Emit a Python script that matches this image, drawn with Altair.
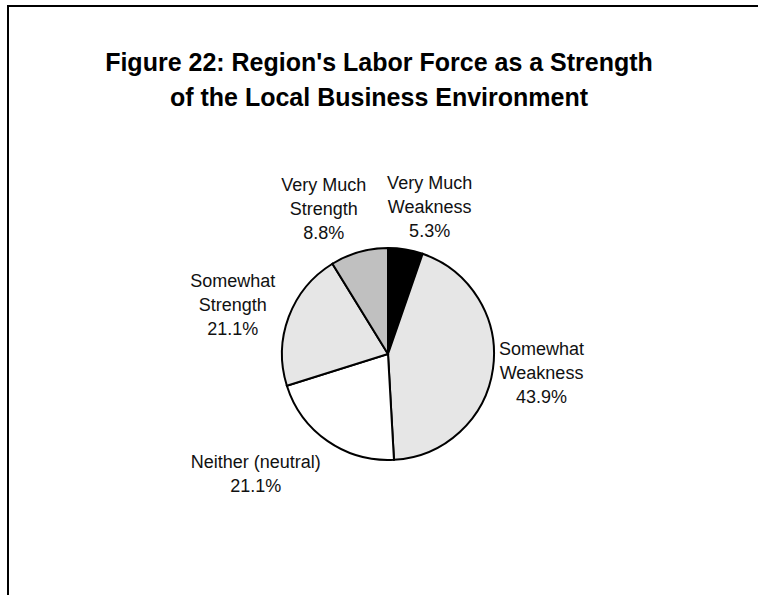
import altair as alt
import pandas as pd

# ---- data ----
categories = ["Very Much Weakness", "Somewhat Weakness", "Neither (neutral)",
              "Somewhat Strength", "Very Much Strength"]
values = [5.3, 43.9, 21.1, 21.1, 8.8]
label_names = ["Very Much\nWeakness", "Somewhat\nWeakness", "Neither (neutral)",
               "Somewhat\nStrength", "Very Much\nStrength"]
title_lines = ["Figure 22: Region's Labor Force as a Strength",
               "of the Local Business Environment"]

# ---- styles ----
colors = ["#000000", "#e6e6e6", "#ffffff", "#e6e6e6", "#c0c0c0"]
LINE_H = 24
label_offsets = {  # (dx, dy) nudges of each label from its slice's mid-angle
    "Very Much Weakness": (16, 7 - LINE_H),
    "Somewhat Weakness": (0, -1 - LINE_H),
    "Neither (neutral)": (-44, -6 - LINE_H // 2),
    "Somewhat Strength": (-10, 6 - LINE_H),
    "Very Much Strength": (-22, 5 - LINE_H),
}
FONT = "Liberation Sans"
PAD_L, PAD_T = 18, 113
W, H = 740, 482

df = pd.DataFrame({
    "idx": list(range(len(categories))),
    "cat": categories,
    "value": values,
    "label": [f"{n}\n{v:.1f}%" for n, v in zip(label_names, values)],
})

base = alt.Chart(df).encode(
    theta=alt.Theta("value:Q", stack=True),
    order=alt.Order("idx:Q"),
)

pie = base.mark_arc(outerRadius=106, stroke="black", strokeWidth=2).encode(
    color=alt.Color("cat:N", scale=alt.Scale(domain=categories, range=colors), legend=None)
)

layers = [pie]
for i, c in enumerate(categories):
    dx, dy = label_offsets[c]
    t = base.transform_calculate(
        t=f"datum.idx == {i} ? datum.label : ''"
    ).mark_text(
        radius=155, font=FONT, fontSize=18, lineHeight=LINE_H, lineBreak="\n",
        align="center", baseline="middle", color="#111111", dx=dx, dy=dy,
    ).encode(text="t:N")
    layers.append(t)

frame_top = alt.Chart(df).mark_rule(color="black", strokeWidth=2).encode(
    x=alt.value(-PAD_L + 7), x2=alt.value(W + 10), y=alt.value(-PAD_T + 6)
)
frame_left = alt.Chart(df).mark_rule(color="black", strokeWidth=2).encode(
    x=alt.value(-PAD_L + 8), y=alt.value(-PAD_T + 5), y2=alt.value(H + 10)
)
layers += [frame_top, frame_left]

chart = alt.layer(*layers).properties(
    width=W, height=H,
    autosize=alt.AutoSizeParams(type="none"),
    padding={"left": PAD_L, "top": PAD_T, "right": 0, "bottom": 0},
    title=alt.TitleParams(
        text=title_lines, font=FONT, fontSize=25, fontWeight="bold",
        lineHeight=35, anchor="middle", offset=-107, dx=-9, color="black",
    ),
).configure_view(strokeWidth=0)

chart.save("out.html", embed_options={"renderer": "svg", "actions": False})
